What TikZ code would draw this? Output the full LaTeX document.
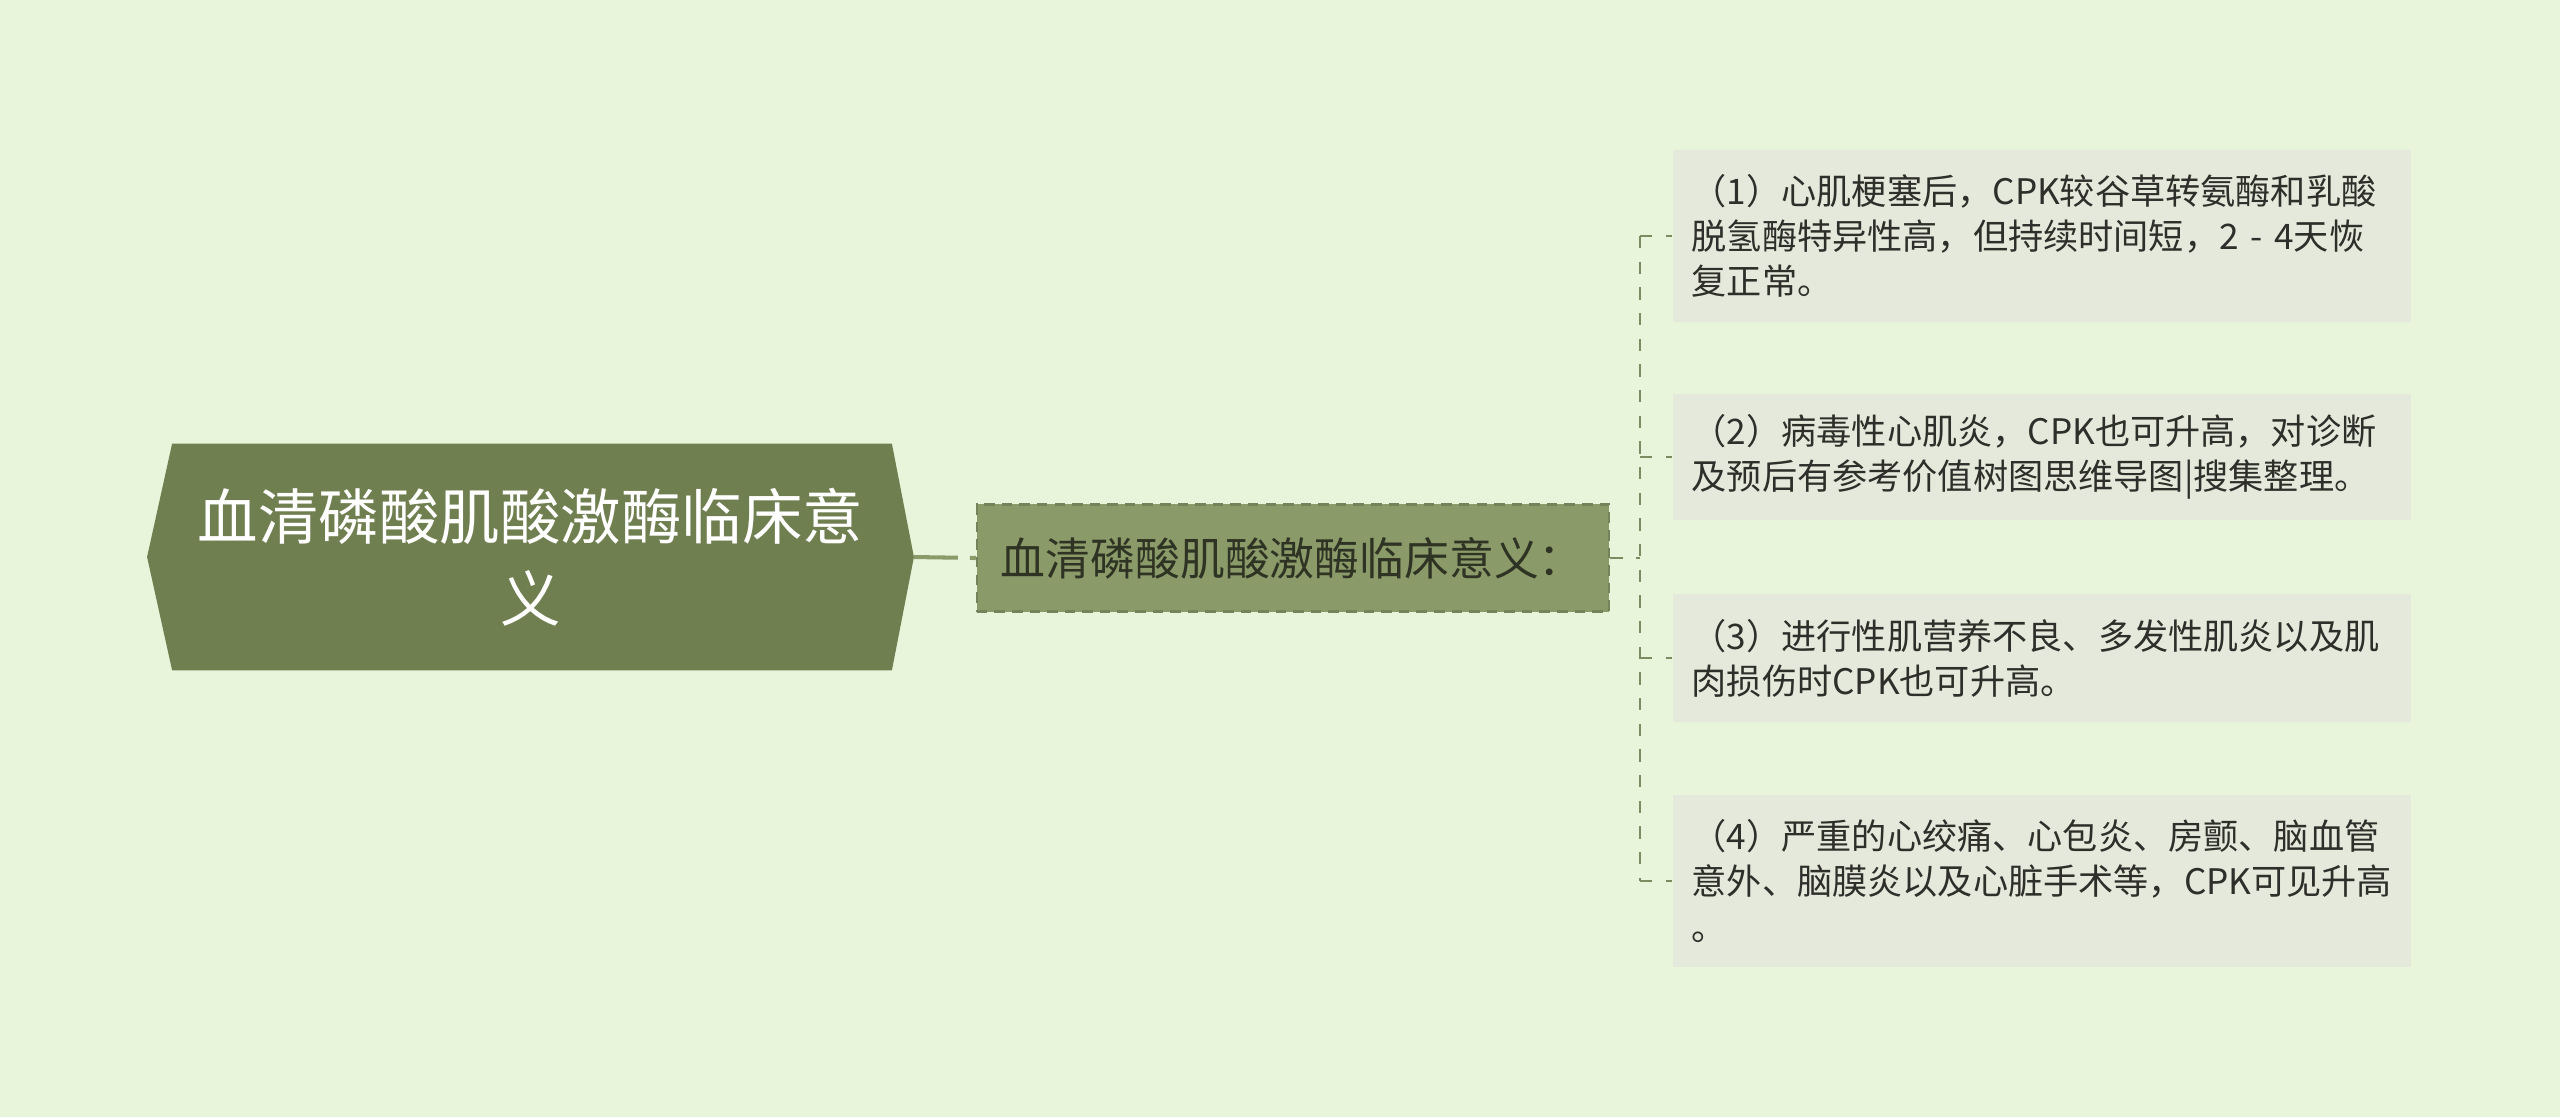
\documentclass[tikz,border=0pt]{standalone}
\usepackage{fontspec}
\setmainfont{Noto Sans CJK SC}
\usepackage{tikz}
\usetikzlibrary{backgrounds}
\definecolor{bgcol}{HTML}{E8F5DB}
\definecolor{rootfill}{HTML}{6F7F50}
\definecolor{childfill}{HTML}{8A9A69}
\definecolor{childline}{HTML}{74845A}
\definecolor{childtext}{HTML}{2F3323}
\definecolor{leaffill}{HTML}{E5E9DB}
\definecolor{leaftext}{HTML}{2E2E2A}
\definecolor{linkcol}{HTML}{8A9A69}
\definecolor{thinlinkcol}{HTML}{7D8C60}
\tikzset{
  roottext/.style={minimum width=7.65cm, minimum height=2.25cm, inner sep=0pt,
    align=center, text=white, font=\fontsize{17.2pt}{23.3pt}\selectfont},
  childbox/.style={fill=childfill, draw=childline, dash pattern=on 3pt off 2pt,
    line width=0.6pt, minimum height=1.07cm, text width=5.84cm, inner xsep=0.24cm,
    inner ysep=0pt, align=left, text=childtext, font=\fontsize{12.75pt}{15pt}\selectfont},
  leafbox/.style={fill=leaffill, minimum height=#1, text width=7.0cm, inner xsep=0.19cm,
    inner ysep=0pt, align=left, anchor=west, text=leaftext,
    font=\fontsize{10pt}{12.8pt}\selectfont},
  thicklink/.style={draw=linkcol, line width=1.15pt, dash pattern=on 12.5pt off 3.4pt},
  thinlink/.style={draw=thinlinkcol, line width=0.55pt, dash pattern=on 3.5pt off 3.8pt}
}
\newcommand{\leafnode}[4]{\node[leafbox=#2] (#1) at (1672,#3) {#4};}

\begin{document}
\begin{tikzpicture}[x=0.01cm, y=-0.01cm]
        \useasboundingbox (0,0) rectangle (2560,1117);
        % root
        \node[roottext] (root) at (530.5,557) {血清磷酸肌酸激酶临床意\\义};
        % child
        \node[childbox] (child) at (1293,558) {血清磷酸肌酸激酶临床意义：};
        % leaves
        \leafnode{leaf1}{1.72cm}{236}{（1）心肌梗塞后，CPK较谷草转氨酶和乳酸\\脱氢酶特异性高，但持续时间短，2 - 4天恢\\复正常。}
        \leafnode{leaf2}{1.25cm}{457}{（2）病毒性心肌炎，CPK也可升高，对诊断\\及预后有参考价值树图思维导图|搜集整理。}
        \leafnode{leaf3}{1.27cm}{658}{（3）进行性肌营养不良、多发性肌炎以及肌\\肉损伤时CPK也可升高。}
        \leafnode{leaf4}{1.72cm}{881}{（4）严重的心绞痛、心包炎、房颤、脑血管\\意外、脑膜炎以及心脏手术等，CPK可见升高\\。}
        % background and hexagon
        \begin{scope}[on background layer]
            \fill[bgcol] (0,0) rectangle (2560,1117);
            \fill[rootfill] ([xshift=0.25cm]root.north west) -- ([xshift=-0.22cm]root.north east)
                -- (root.east) -- ([xshift=-0.22cm]root.south east)
                -- ([xshift=0.25cm]root.south west) -- (root.west) -- cycle;
        \end{scope}
        % links
        \coordinate (trunk) at (1640,558);
        \draw[thicklink] (root.east) -- (child.west);
        \draw[thinlink] (child.east) -- (trunk);
        \draw[thinlink] (trunk |- leaf1.west) -- (trunk |- leaf4.west);
        \draw[thinlink] (trunk |- leaf1.west) -- (leaf1.west);
        \draw[thinlink] (trunk |- leaf2.west) -- (leaf2.west);
        \draw[thinlink] (trunk |- leaf3.west) -- (leaf3.west);
        \draw[thinlink] (trunk |- leaf4.west) -- (leaf4.west);
    \end{tikzpicture}
\end{document}
